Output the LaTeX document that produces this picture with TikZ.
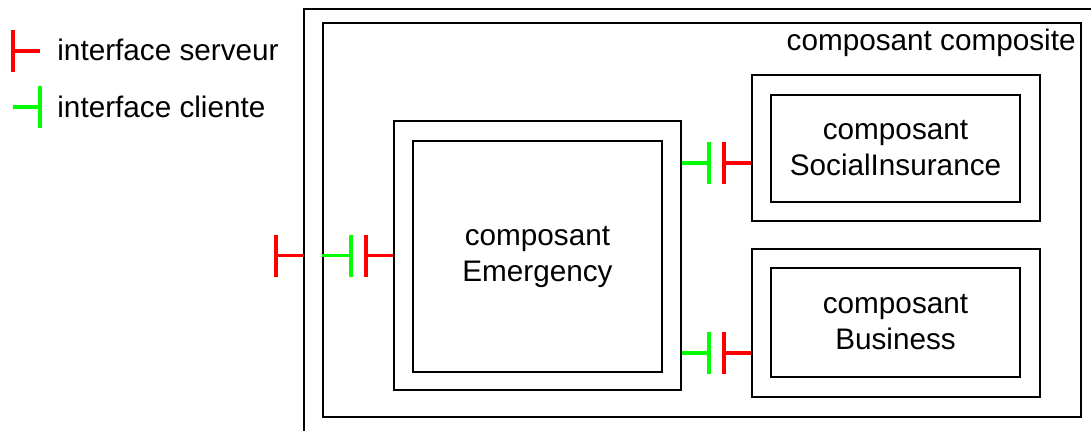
\documentclass[tikz,border=0pt]{standalone}
\usepackage{fontspec}
\setmainfont{Liberation Sans}
\usepackage{tikz}

\begin{document}
\begin{tikzpicture}[x=0.5pt,y=-0.5pt,
  box/.style={draw,line width=1pt,inner sep=0pt},
  lbl/.style={font=\fontsize{14.85}{18}\selectfont,align=center},
  srv/.style={draw=red,line width=1.8pt},
  cli/.style={draw=green,line width=1.8pt}]
  \useasboundingbox (0,0) rectangle (1091,430);
  % legend
  \node[lbl,anchor=base west,inner sep=0pt] (srvtxt) at (57,60) {interface serveur};
  \node[lbl,anchor=base west,inner sep=0pt] (clitxt) at (57,117) {interface cliente};
  \draw[srv] (13,30) -- (13,72) (13,51) -- (40,51);
  \draw[cli] (40,86) -- (40,128) (40,107) -- (13,107);
  % frames
  \coordinate (frame) at (304,9);
  \draw[line width=1pt] (frame |- 0,440) -- (frame) -- (1095,9);
  \node[box,minimum width=379pt,minimum height=197pt] (compin) at (702,220) {};
  \node[lbl,anchor=base east,inner sep=0pt] (comptxt) at (1076,50) {composant composite};
  % components
  \node[box,lbl,minimum width=124.5pt,minimum height=115.5pt] (emerg) at (537.5,256.5) {composant\\Emergency};
  \node[box,minimum width=143.5pt,minimum height=134.5pt] (emergout) at (537.5,255.5) {};
  \node[box,lbl,minimum width=124.5pt,minimum height=53.5pt] (social) at (895.5,148.5) {composant\\SocialInsurance};
  \node[box,minimum width=144pt,minimum height=73pt] (socialout) at (896,148) {};
  \node[box,lbl,minimum width=124.5pt,minimum height=54.5pt] (business) at (895.5,322.5) {composant\\Business};
  \node[box,minimum width=144pt,minimum height=74pt] (businessout) at (896,323) {};
  % interfaces
  \draw[srv] (frame |- emergout.west) -- ++(-28,0) ++(0,-21) -- ++(0,42);
  \draw[cli] (compin.west |- emergout.west) -- ++(29,0) ++(0,-21) -- ++(0,42);
  \draw[srv] (emergout.west) -- ++(-27,0) ++(0,-21) -- ++(0,42);
  \draw[cli] (emergout.east |- 0,163) -- ++(27,0) ++(0,-21) -- ++(0,42);
  \draw[srv] (socialout.west |- 0,163) -- ++(-27,0) ++(0,-21) -- ++(0,42);
  \draw[cli] (emergout.east |- 0,353) -- ++(27,0) ++(0,-21) -- ++(0,42);
  \draw[srv] (businessout.west |- 0,353) -- ++(-27,0) ++(0,-21) -- ++(0,42);
\end{tikzpicture}
\end{document}
